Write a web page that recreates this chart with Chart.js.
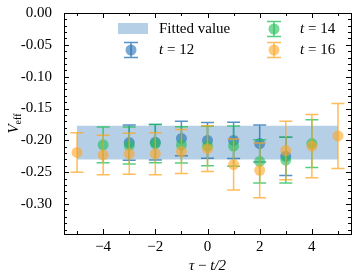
<!DOCTYPE html>
<html>
<head>
<meta charset="utf-8">
<script src="https://cdn.jsdelivr.net/npm/chart.js@4"></script>
<style>
  html, body { margin: 0; padding: 0; background: #fff; }
  canvas { display: block; }
</style>
</head>
<body>
<canvas id="chart" width="357" height="280"></canvas>
<script>
  // tau - t/2 positions for each series
  const x12 = [-3, -2, -1, 0, 1, 2, 3];
  const x14 = [-4, -3, -2, -1, 0, 1, 2, 3, 4];
  const x16 = [-5, -4, -3, -2, -1, 0, 1, 2, 3, 4, 5];

  // V_eff and its errors
  const v12 = [-0.2035, -0.203, -0.197, -0.200, -0.200, -0.205, -0.225];
  const e12 = [0.0277, 0.028, 0.027, 0.028, 0.0285, 0.029, 0.030];
  const v14 = [-0.207, -0.208, -0.205, -0.207, -0.209, -0.209, -0.233, -0.231, -0.205];
  const e14 = [0.028, 0.029, 0.030, 0.0285, 0.031, 0.0315, 0.034, 0.036, 0.0375];
  const v16 = [-0.219, -0.223, -0.221, -0.221, -0.2175, -0.213, -0.238, -0.247, -0.216, -0.209, -0.193];
  const e16 = [0.031, 0.031, 0.032, 0.033, 0.0345, 0.036, 0.040, 0.043, 0.046, 0.0495, 0.051];

  // fitted band
  const fitRange = [-5, 5];
  const fitValue = -0.2035;
  const fitError = 0.0265;

  const xTicks = [-4, -2, 0, 2, 4];
  const yTicks = [0, -0.05, -0.10, -0.15, -0.20, -0.25, -0.30];

  const BLUE = '31,110,180';
  const GREEN = '30,190,85';
  const ORANGE = '255,165,35';
  const SERIF = '"Liberation Serif", "DejaVu Serif", serif';

  const toPoints = (xs, ys) => xs.map((x, i) => ({ x, y: ys[i] }));

  function series(label, xs, ys, errs, rgb, order) {
    return {
      type: 'scatter',
      label,
      data: toPoints(xs, ys),
      errs,
      rgb,
      order,
      pointRadius: 5.5,
      pointHoverRadius: 5.5,
      pointBackgroundColor: `rgba(${rgb},0.6)`,
      pointBorderWidth: 0,
      showLine: false
    };
  }

  function drawErrorBar(ctx, px, top, bottom, rgb, half) {
    ctx.strokeStyle = `rgba(${rgb},0.75)`;
    ctx.lineWidth = 1.5;
    ctx.beginPath();
    ctx.moveTo(px, top); ctx.lineTo(px, bottom);
    ctx.moveTo(px - half, top); ctx.lineTo(px + half, top);
    ctx.moveTo(px - half, bottom); ctx.lineTo(px + half, bottom);
    ctx.stroke();
  }

  const errorBars = {
    id: 'errorBars',
    beforeDatasetDraw(chart, args) {
      const ds = chart.data.datasets[args.index];
      if (!ds.errs) return;
      const { ctx, scales: { x, y } } = chart;
      ctx.save();
      ds.data.forEach((p, i) => {
        const px = x.getPixelForValue(p.x);
        drawErrorBar(ctx, px, y.getPixelForValue(p.y + ds.errs[i]), y.getPixelForValue(p.y - ds.errs[i]), ds.rgb, 6.5);
      });
      ctx.restore();
    }
  };

  function drawLegendLabel(ctx, x, y, num) {
    ctx.font = `italic 15px ${SERIF}`;
    ctx.fillText('t', x, y);
    const w = ctx.measureText('t').width;
    ctx.font = `15px ${SERIF}`;
    ctx.fillText(' = ' + num, x + w, y);
  }

  const frame = {
    id: 'frame',
    afterDraw(chart) {
      const { ctx, chartArea: a, scales: { x, y } } = chart;
      ctx.save();
      ctx.strokeStyle = '#000';
      ctx.lineWidth = 1;
      ctx.strokeRect(a.left + 0.5, a.top + 0.5, a.right - a.left, a.bottom - a.top);

      // inward ticks on all four sides
      ctx.beginPath();
      for (let v = -5; v <= 5; v++) {
        const px = Math.round(x.getPixelForValue(v)) + 0.5;
        const len = v % 2 === 0 ? 5 : 3;
        ctx.moveTo(px, a.bottom); ctx.lineTo(px, a.bottom - len);
        ctx.moveTo(px, a.top); ctx.lineTo(px, a.top + len);
      }
      for (let k = 0; k >= -34; k--) {
        const py = Math.round(y.getPixelForValue(k / 100)) + 0.5;
        const len = k % 5 === 0 ? 5 : 3;
        ctx.moveTo(a.left, py); ctx.lineTo(a.left + len, py);
        ctx.moveTo(a.right, py); ctx.lineTo(a.right - len, py);
      }
      ctx.stroke();

      // axis titles
      ctx.fillStyle = '#000';
      ctx.textBaseline = 'middle';
      ctx.textAlign = 'left';
      ctx.font = `italic 15px ${SERIF}`;
      const w0 = ctx.measureText('τ').width;
      const w2 = ctx.measureText('t/2').width;
      ctx.font = `15px ${SERIF}`;
      const w1 = ctx.measureText(' − ').width;
      const cx = (a.left + a.right) / 2 - (w0 + w1 + w2) / 2;
      ctx.font = `italic 15px ${SERIF}`;
      ctx.fillText('τ', cx, 266);
      ctx.font = `15px ${SERIF}`;
      ctx.fillText(' − ', cx + w0, 266);
      ctx.font = `italic 15px ${SERIF}`;
      ctx.fillText('t/2', cx + w0 + w1, 266);

      ctx.save();
      ctx.translate(14, (a.top + a.bottom) / 2);
      ctx.rotate(-Math.PI / 2);
      ctx.font = `italic 15px ${SERIF}`;
      const vw = ctx.measureText('V').width;
      ctx.font = `10px ${SERIF}`;
      const sw = ctx.measureText('eff').width;
      ctx.font = `italic 15px ${SERIF}`;
      ctx.fillText('V', -(vw + sw) / 2, 0);
      ctx.font = `10px ${SERIF}`;
      ctx.fillText('eff', -(vw + sw) / 2 + vw, 4);
      ctx.restore();

      // legend
      ctx.fillStyle = `rgba(${BLUE},0.33)`;
      ctx.fillRect(118, 23, 30, 11);
      const items = [
        [131, 50, BLUE],
        [274, 29, GREEN],
        [274, 50, ORANGE]
      ];
      items.forEach(([mx, my, rgb]) => {
        drawErrorBar(ctx, mx, my - 7.5, my + 7.5, rgb, 7);
        ctx.fillStyle = `rgba(${rgb},0.6)`;
        ctx.beginPath();
        ctx.arc(mx, my, 5.5, 0, Math.PI * 2);
        ctx.fill();
      });
      ctx.fillStyle = '#000';
      ctx.font = `15px ${SERIF}`;
      ctx.fillText('Fitted value', 159, 29);
      drawLegendLabel(ctx, 159, 50, '12');
      drawLegendLabel(ctx, 300, 29, '14');
      drawLegendLabel(ctx, 300, 50, '16');
      ctx.restore();
    }
  };

  const bandLow = toPoints(fitRange, fitRange.map(() => fitValue - fitError));
  const bandHigh = toPoints(fitRange, fitRange.map(() => fitValue + fitError));

  new Chart(document.getElementById('chart'), {
    type: 'scatter',
    data: {
      datasets: [
        { type: 'line', label: 'Fitted value', data: bandLow, order: 10, borderWidth: 0, pointRadius: 0, fill: false },
        { type: 'line', label: 'Fitted value', data: bandHigh, order: 10, borderWidth: 0, pointRadius: 0, fill: '-1', backgroundColor: `rgba(${BLUE},0.33)` },
        series('t = 12', x12, v12, e12, BLUE, 3),
        series('t = 14', x14, v14, e14, GREEN, 2),
        series('t = 16', x16, v16, e16, ORANGE, 1)
      ]
    },
    options: {
      responsive: false,
      animation: false,
      devicePixelRatio: 1,
      layout: { padding: { left: 0, top: 11, right: 6, bottom: 0 } },
      plugins: { legend: { display: false }, tooltip: { enabled: false } },
      scales: {
        x: {
          type: 'linear',
          min: -5.5,
          max: 5.5,
          grid: { display: false },
          border: { display: false },
          afterBuildTicks: (s) => { s.ticks = xTicks.map((value) => ({ value })); },
          afterFit: (s) => { s.height = 46; },
          ticks: {
            padding: -4,
            color: '#000',
            font: { family: SERIF, size: 15 },
            callback: (v) => v < 0 ? '−' + Math.abs(v) : String(v)
          }
        },
        y: {
          type: 'linear',
          min: -0.347,
          max: 0,
          grid: { display: false },
          border: { display: false },
          afterBuildTicks: (s) => { s.ticks = yTicks.map((value) => ({ value })); },
          afterFit: (s) => { s.width = 64; },
          ticks: {
            padding: 4,
            color: '#000',
            font: { family: SERIF, size: 15 },
            callback: (v) => Number(v).toFixed(2)
          }
        }
      }
    },
    plugins: [errorBars, frame]
  });
</script>
</body>
</html>
